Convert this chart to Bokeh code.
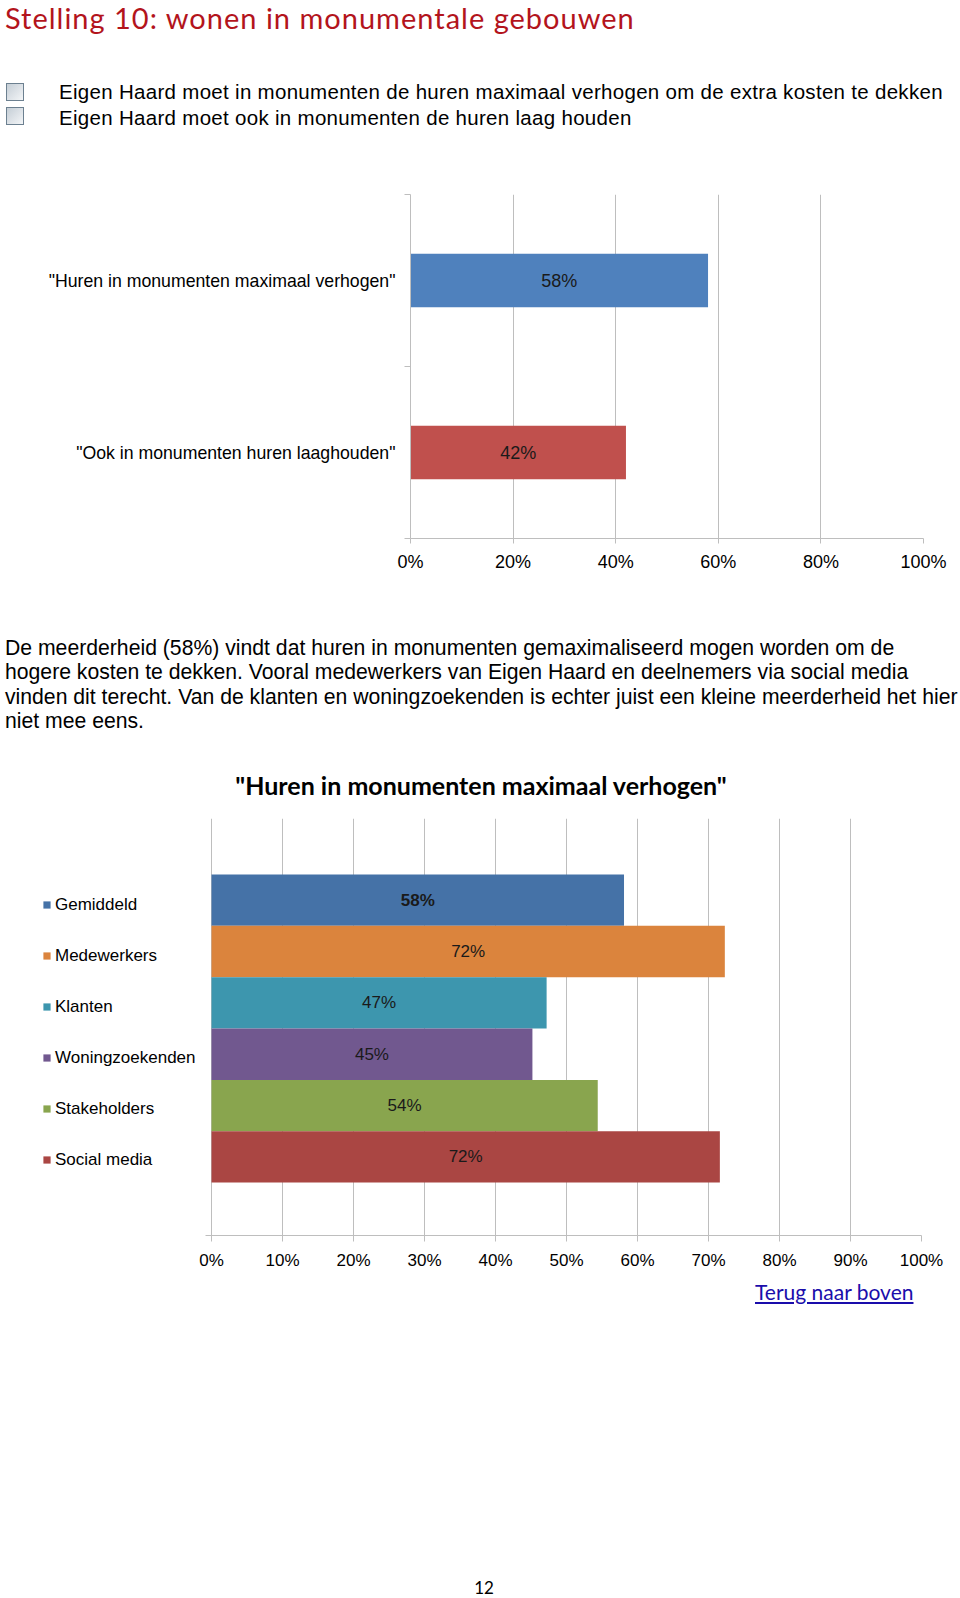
from bokeh.plotting import figure
from bokeh.models import (Div, Range1d, FixedTicker, PrintfTickFormatter, ColumnDataSource,
                          Legend, LegendItem)
from bokeh.core.properties import value
from bokeh.embed import file_html
from bokeh.resources import INLINE

# ---------------- data ----------------
page_title = "Stelling 10: wonen in monumentale gebouwen"
statements = [
    "Eigen Haard moet in monumenten de huren maximaal verhogen om de extra kosten te dekken",
    "Eigen Haard moet ook in monumenten de huren laag houden",
]
chart1_categories = ['"Huren in monumenten maximaal verhogen"', '"Ook in monumenten huren laaghouden"']
chart1_values = [58, 42]
chart1_colors = ["#4F81BD", "#C0504D"]
chart1_ticks = [0, 20, 40, 60, 80, 100]

paragraph_lines = [
    "De meerderheid (58%) vindt dat huren in monumenten gemaximaliseerd mogen worden om de",
    "hogere kosten te dekken. Vooral medewerkers van Eigen Haard en deelnemers via social media",
    "vinden dit terecht. Van de klanten en woningzoekenden is echter juist een kleine meerderheid het hier",
    "niet mee eens.",
]

chart2_title = '"Huren in monumenten maximaal verhogen"'
chart2_groups = ["Gemiddeld", "Medewerkers", "Klanten", "Woningzoekenden", "Stakeholders", "Social media"]
chart2_values = [58.1, 72.3, 47.2, 45.2, 54.4, 71.6]
chart2_colors = ["#4572A7", "#DB843D", "#3D96AE", "#71588F", "#89A54E", "#AA4643"]
chart2_ticks = [0, 10, 20, 30, 40, 50, 60, 70, 80, 90, 100]

link_text = "Terug naar boven"
page_number = "12"

FONT = "Liberation Sans"
GRID = "#BEBEBE"
W = 960

# ---------------- header ----------------
box_style = ("position:absolute;width:18px;height:18px;border:1px solid #6c8090;"
             "background:linear-gradient(135deg,#c5ced6,#f3f5f7);")
txt_style = ("position:absolute;white-space:nowrap;font-family:'Liberation Sans';"
             "font-size:20.5px;letter-spacing:0.3px;line-height:24px;color:#000;")
header_html = (
    f'<div style="position:relative;width:{W}px;height:190px;">'
    f'<div style="position:absolute;left:5px;top:0px;white-space:nowrap;font-family:Lato;'
    f'font-size:29px;letter-spacing:1px;line-height:35px;color:#B3141C;">{page_title}</div>'
    f'<div style="{box_style}left:6px;top:83px;"></div>'
    f'<div style="{box_style}left:6px;top:107px;"></div>'
    f'<div style="{txt_style}left:59px;top:80px;">{statements[0]}</div>'
    f'<div style="{txt_style}left:59px;top:106px;">{statements[1]}</div>'
    '</div>'
)
header = Div(text=header_html, width=W, height=190, margin=0)

# ---------------- chart 1 ----------------
n1 = len(chart1_categories)
p1 = figure(width=W, height=400, x_range=Range1d(0, 100), y_range=Range1d(n1, 0),
            output_backend="svg", toolbar_location=None,
            min_border_left=410, min_border_right=37, min_border_top=4, min_border_bottom=52,
            margin=0)
p1.outline_line_color = None
src1 = ColumnDataSource(dict(
    y=[i + 0.5 for i in range(n1)],
    v=chart1_values,
    mid=[v / 2 for v in chart1_values],
    lab=[f"{round(v)}%" for v in chart1_values],
    c=chart1_colors,
))
p1.hbar(y="y", left=0, right="v", height=0.31, fill_color="c", line_color=None, source=src1)
p1.text(x="mid", y="y", text="lab", source=src1, text_align="center", text_baseline="middle",
        text_font=value(FONT), text_font_size="18px", text_color="#1a1a1a")

p1.xaxis.ticker = FixedTicker(ticks=chart1_ticks)
p1.xaxis.formatter = PrintfTickFormatter(format="%d%%")
p1.xgrid.ticker = FixedTicker(ticks=chart1_ticks)
p1.xgrid.grid_line_color = GRID
p1.ygrid.grid_line_color = None
for ax in (p1.xaxis[0], p1.yaxis[0]):
    ax.axis_line_color = GRID
    ax.major_tick_line_color = GRID
    ax.minor_tick_line_color = GRID
    ax.major_label_text_font = FONT
    ax.major_label_text_font_size = "18px"
    ax.major_label_text_color = "#000000"
p1.yaxis.major_label_text_font_size = "17.7px"
p1.xaxis.major_tick_out = 5
p1.xaxis.major_tick_in = 0
p1.xaxis.minor_tick_out = 0
p1.xaxis.major_label_standoff = 8
p1.yaxis.ticker = FixedTicker(ticks=[i + 0.5 for i in range(n1)], minor_ticks=list(range(n1 + 1)))
p1.yaxis.major_label_overrides = {i + 0.5: c for i, c in enumerate(chart1_categories)}
p1.yaxis.major_tick_out = 0
p1.yaxis.major_tick_in = 0
p1.yaxis.minor_tick_out = 6
p1.yaxis.minor_tick_in = 0
p1.yaxis.major_label_standoff = 9

# ---------------- paragraph + chart 2 title ----------------
para_html = (
    f'<div style="position:relative;width:{W}px;height:215px;">'
    '<div style="position:absolute;left:5px;top:46px;white-space:nowrap;font-family:\'Liberation Sans\';'
    'font-size:21.2px;line-height:24.4px;color:#000;">' + "<br>".join(paragraph_lines) + '</div>'
    '<div style="position:absolute;left:481px;top:180px;transform:translateX(-50%);white-space:nowrap;'
    f'font-family:Lato;font-weight:bold;font-size:25px;line-height:30px;color:#000;">{chart2_title}</div>'
    '</div>'
)
para = Div(text=para_html, width=W, height=215, margin=0)

# ---------------- chart 2 ----------------
n2 = len(chart2_groups)
y_top, y_bot = -1.09, n2 + 1.03
# frame starts at the legend column; 0% sits 169px right of the frame edge (7.1 px per %)
x_start = -169 / 7.1
p2 = figure(width=W, height=475, x_range=Range1d(x_start, 100), y_range=Range1d(y_bot, y_top),
            output_backend="svg", toolbar_location=None,
            min_border_left=42, min_border_right=39, min_border_top=13, min_border_bottom=45,
            margin=0)
p2.outline_line_color = None
src2 = ColumnDataSource(dict(
    y=[i + 0.5 for i in range(n2)],
    v=chart2_values,
    mid=[v / 2 for v in chart2_values],
    lab=[f"{round(v)}%" for v in chart2_values],
    fs=["bold"] + ["normal"] * (n2 - 1),
    c=chart2_colors,
))
bars2 = p2.hbar(y="y", left=0, right="v", height=1.0, fill_color="c", line_color=None, source=src2)
p2.text(x="mid", y="y", text="lab", source=src2, text_align="center", text_baseline="middle",
        text_font=value(FONT), text_font_size="17px", text_font_style="fs", text_color="#1a1a1a")

p2.xaxis.ticker = FixedTicker(ticks=chart2_ticks)
p2.xaxis.formatter = PrintfTickFormatter(format="%d%%")
p2.xaxis.bounds = (-0.8, 100)
p2.xgrid.ticker = FixedTicker(ticks=chart2_ticks)
p2.xgrid.grid_line_color = GRID
p2.ygrid.grid_line_color = None
p2.yaxis.visible = False
xa = p2.xaxis[0]
xa.axis_line_color = GRID
xa.major_tick_line_color = GRID
xa.major_label_text_font = FONT
xa.major_label_text_font_size = "17px"
xa.major_label_text_color = "#000000"
xa.major_tick_out = 6
xa.major_tick_in = 0
xa.minor_tick_out = 0
xa.major_label_standoff = 9

legend = Legend(
    items=[LegendItem(label=g, renderers=[bars2], index=i) for i, g in enumerate(chart2_groups)],
    location=(0, 65), orientation="vertical",
    label_text_font=FONT, label_text_font_size="17px", label_text_color="#000000",
    glyph_width=9, glyph_height=9, label_standoff=4, label_height=21, spacing=30,
    padding=0, margin=0, border_line_alpha=0, background_fill_alpha=0,
)
p2.add_layout(legend)

# ---------------- footer ----------------
footer_html = (
    f'<div style="position:relative;width:{W}px;height:318px;">'
    '<div style="position:absolute;left:755px;top:0px;white-space:nowrap;font-family:Lato;'
    f'font-size:21px;line-height:24px;color:#1A0DAB;text-decoration:underline;">{link_text}</div>'
    '<div style="position:absolute;left:484px;top:298px;transform:translateX(-50%);white-space:nowrap;'
    f'font-family:Lato;font-size:17px;line-height:20px;color:#000;">{page_number}</div>'
    '</div>'
)
footer = Div(text=footer_html, width=W, height=318, margin=0)

open("out.html", "w").write(file_html([header, p1, para, p2, footer], INLINE))
